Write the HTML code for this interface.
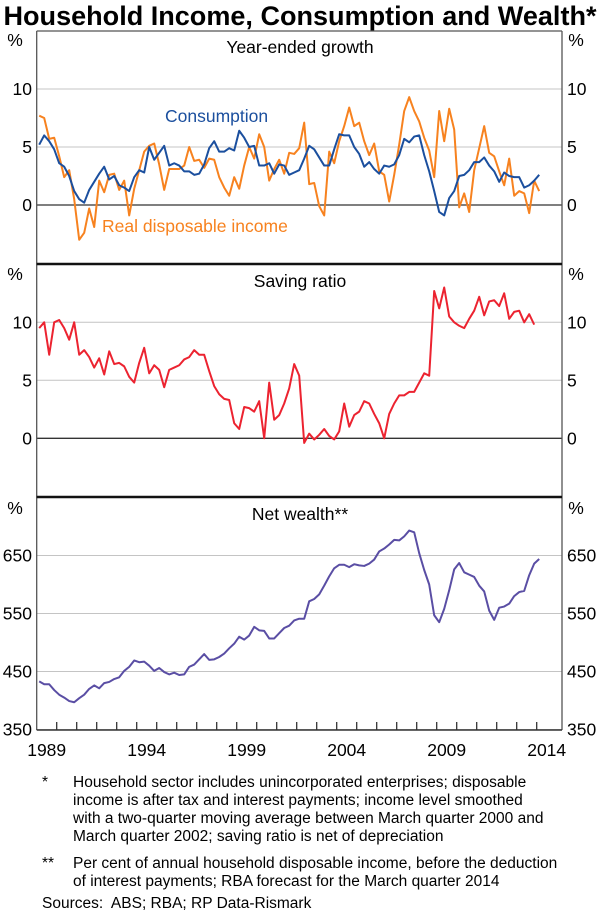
<!DOCTYPE html>
<html><head><meta charset="utf-8"><style>
html,body{margin:0;padding:0;background:#fff;}
body{width:600px;height:912px;overflow:hidden;font-family:"Liberation Sans",Arial,sans-serif;}
svg text{font-family:"Liberation Sans",Arial,sans-serif;}
</style></head><body>
<svg id="chart" width="600" height="912" viewBox="0 0 600 912" xmlns="http://www.w3.org/2000/svg">
<text x="300" y="25" text-anchor="middle" font-size="27" font-weight="bold" fill="#000" textLength="593" lengthAdjust="spacingAndGlyphs">Household Income, Consumption and Wealth*</text>
<g id="grid"></g>
<g id="series"></g>
<g id="axes"></g>
<g font-size="15.5" fill="#000">
<text x="42" y="787">*</text>
<text x="73" y="787">Household sector includes unincorporated enterprises; disposable</text>
<text x="73" y="805">income is after tax and interest payments; income level smoothed</text>
<text x="73" y="823">with a two-quarter moving average between March quarter 2000 and</text>
<text x="73" y="841">March quarter 2002; saving ratio is net of depreciation</text>
<text x="42" y="868">**</text>
<text x="73" y="868">Per cent of annual household disposable income, before the deduction</text>
<text x="73" y="886">of interest payments; RBA forecast for the March quarter 2014</text>
<text x="42" y="908">Sources:&#160; ABS; RBA; RP Data-Rismark</text>
</g>
</svg>
<script>
const years = [1989,1994,1999,2004,2009,2014];
const growthTicks = [0,5,10];
const savingTicks = [0,5,10];
const wealthTicks = [350,450,550,650];
const consumption = [5.2,6.0,5.5,4.8, 3.6,3.3,2.5,1.2, 0.5,0.2,1.3,2.0, 2.7,3.3,2.2,2.5, 1.7,1.5,1.2,2.4, 3.0,2.8,5.0,3.9, 4.5,5.1,3.4,3.6, 3.4,2.9,2.9,2.6, 2.7,3.5,4.9,5.5, 4.6,4.6,4.9,4.7, 6.4,5.8,5.0,5.1, 3.4,3.4,3.6,2.7, 3.5,3.4,2.6,2.8, 3.0,4.0,5.1,4.8, 4.1,3.4,3.4,4.8, 6.1,6.0,6.0,5.0, 4.4,3.3,3.7,3.1, 2.7,3.4,3.3,3.5, 4.3,5.7,5.4,5.9, 6.0,4.3,2.9,1.2, -0.6,-0.9,0.6,1.2, 2.5,2.6,3.0,3.7, 3.7,4.1,3.4,2.9, 2.0,2.8,2.5,2.4, 2.4,1.5,1.7,2.1, 2.6];
const income = [7.7,7.5,5.7,5.8, 4.2,2.4,3.0,0.5, -3.0,-2.4,-0.3,-1.9, 2.1,1.1,2.6,2.7, 1.3,2.1,-0.9,1.4, 3.0,4.6,5.1,5.3, 3.5,1.3,3.1,3.1, 3.1,3.4,5.0,3.8, 3.9,3.2,4.0,3.9, 2.4,1.5,0.8,2.4, 1.4,3.4,5.0,4.0, 6.1,5.0,2.1,3.1, 3.9,2.7,4.5,4.4, 4.9,7.1,1.8,1.9, -0.1,-0.9,4.6,3.6, 5.5,6.8,8.4,6.8, 7.1,5.5,4.3,5.3, 2.9,2.6,0.3,2.6, 5.2,8.1,9.3,8.1, 7.2,5.8,4.7,2.4, 8.1,5.5,8.3,6.5, -0.2,1.0,-0.6,3.0, 4.9,6.8,4.5,4.2, 2.9,1.7,4.0,0.8, 1.2,1.0,-0.7,2.1, 1.2];
const saving = [9.5,10.0,7.2,10.0, 10.2,9.5,8.5,10.0, 7.2,7.6,7.0,6.1, 6.9,5.5,7.5,6.4, 6.5,6.2,5.3,4.8, 6.5,7.8,5.6,6.3, 5.9,4.4,5.9,6.1, 6.3,6.8,7.0,7.6, 7.2,7.2,5.8,4.5, 3.8,3.4,3.3,1.3, 0.8,2.7,2.6,2.3, 3.2,0.0,4.8,1.6, 2.0,3.0,4.3,6.4, 5.4,-0.4,0.4,-0.1, 0.3,0.8,0.2,-0.1, 0.6,3.0,1.0,2.0, 2.3,3.2,3.0,2.1, 1.3,0.0,2.1,3.0, 3.7,3.7,4.0,4.0, 4.8,5.6,5.4,12.7, 11.2,13.0,10.5,10.0, 9.7,9.5,10.3,11.0, 12.2,10.6,11.8,11.9, 11.4,12.5,10.3,10.9, 11.0,10.0,10.7,9.8];
const wealth = [433,428,428,418, 410,405,399,397, 404,410,420,426, 421,430,432,437, 440,451,458,469, 466,467,460,451, 456,449,445,448, 444,445,458,462, 471,480,470,471, 475,481,490,498, 510,505,512,527, 521,520,507,507, 516,525,529,538, 541,541,571,575, 583,598,614,628, 634,634,630,635, 633,632,636,643, 657,662,669,677, 676,683,693,690, 654,625,600,547, 535,558,590,626, 637,621,617,613, 598,588,555,539, 560,562,567,580, 587,589,616,636, 644];

const NS='http://www.w3.org/2000/svg';
const L=36.7, R=562, YR=20;
function xQ(i){return L+(i+0.5)*YR/4;}
function xYear(y){return L+(y-1989)*YR;}
function yP1(v){return 205-v*11.6;}
function yP2(v){return 438.3-v*11.6;}
function yP3(v){return 729.5-(v-350)*0.58;}
function mk(tag,attrs,parent){const e=document.createElementNS(NS,tag);for(const k in attrs)e.setAttribute(k,attrs[k]);parent.appendChild(e);return e;}
const gridG=document.getElementById('grid'), serG=document.getElementById('series'), axG=document.getElementById('axes');

function panel(ticks,yf,name,zero){
  ticks.forEach(t=>{
    const y=yf(t);
    if(t===zero){
      const ln=mk('line',{x1:L,x2:R,y1:y,y2:y,stroke:'#333','stroke-width':1.3},gridG);
      
      
    } else {
      const ln=mk('line',{x1:L,x2:R,y1:y,y2:y,stroke:'#c4c4c4','stroke-width':1},gridG);
      
      
    }
    const tl=mk('text',{x:32,y:y+6,'text-anchor':'end','font-size':17.5,fill:'#000'},axG);
    tl.textContent=t;
    
    
    const tr=mk('text',{x:567,y:y+6,'text-anchor':'start','font-size':17.5,fill:'#000'},axG);
    tr.textContent=t;
    
    
  });
}
panel(growthTicks,yP1,'growth',0);
panel(savingTicks,yP2,'saving',0);
panel(wealthTicks,yP3,'wealth',null);

function drawLine(arr,xf,yf,color,name){
  const d=arr.map((v,i)=>(i?'L':'M')+xf(i).toFixed(2)+' '+yf(v).toFixed(2)).join(' ');
  const p=mk('path',{d:d,fill:'none',stroke:color,'stroke-width':2,'stroke-linejoin':'round'},serG);
  
  
}
drawLine(income,xQ,yP1,'#f7821f','income-line');
drawLine(consumption,xQ,yP1,'#1b4f9e','consumption-line');
drawLine(saving,xQ,yP2,'#ec2330','saving-ratio-line');
drawLine(wealth,xQ,yP3,'#5a4ea4','net-wealth-line');

[[L,31,L,730],[R,31,R,730]].forEach(c=>{
  const f=mk('line',{x1:c[0],y1:c[1],x2:c[2],y2:c[3],stroke:'#555','stroke-width':1.3},axG);
  
  
});
const frameTop=mk('line',{x1:L,x2:R,y1:31,y2:31,stroke:'#555','stroke-width':1.2},axG);


[264,497].forEach(y=>{
  const s=mk('line',{x1:L,x2:R,y1:y,y2:y,stroke:'#111','stroke-width':2.5},axG);
  
  
});
const bot=mk('line',{x1:L,x2:R,y1:730,y2:730,stroke:'#333','stroke-width':1.5},axG);


for(let y=1990;y<=2014;y++){
  const t=mk('line',{x1:xYear(y),x2:xYear(y),y1:722,y2:730,stroke:'#333','stroke-width':1.3},axG);
  
  
}
years.forEach(y=>{
  const t=mk('text',{x:xYear(y)+10,y:756,'text-anchor':'middle','font-size':17.5,fill:'#000'},axG);
  t.textContent=y;
  
  
});
[46,280,514].forEach(yy=>{
  const l=mk('text',{x:15,y:yy,'font-size':17.5,fill:'#000','text-anchor':'middle'},axG);
  l.textContent='%';
  
  
  const r=mk('text',{x:576,y:yy,'font-size':17.5,fill:'#000','text-anchor':'middle'},axG);
  r.textContent='%';
  
  
});
const titles=[['Year-ended growth',53,'growth-panel-title'],['Saving ratio',287,'saving-panel-title'],['Net wealth**',520,'wealth-panel-title']];
titles.forEach(t=>{
  const e=mk('text',{x:300,y:t[1],'text-anchor':'middle','font-size':17.5,fill:'#000'},axG);
  e.textContent=t[0];
  
  
});
const lc=mk('text',{x:165,y:122,'font-size':17.5,fill:'#1b4f9e'},axG);
lc.textContent='Consumption';


const li=mk('text',{x:102,y:232,'font-size':17.5,fill:'#f7821f'},axG);
li.textContent='Real disposable income';


</script>
</body></html>
